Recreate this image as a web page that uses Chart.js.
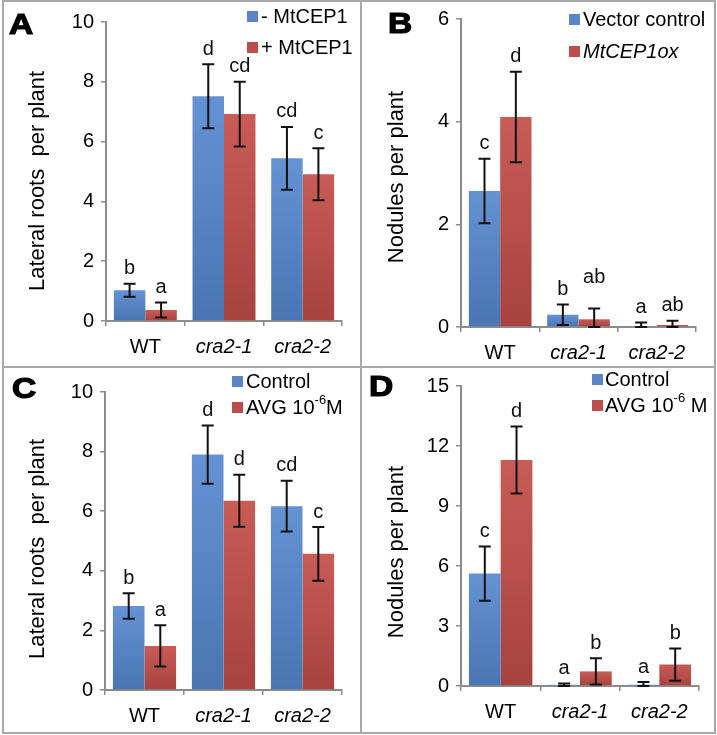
<!DOCTYPE html>
<html>
<head>
<meta charset="utf-8">
<script src="https://cdn.jsdelivr.net/npm/chart.js@4.4.0/dist/chart.umd.min.js"></script>
<style>
  body { margin: 0; background: #fff; }
  #fig { position: relative; width: 717px; height: 735px; }
  .p { position: absolute; }
  .ln { position: absolute; background: #a8a8a8; z-index: 2; }
</style>
</head>
<body>
<div id="fig">
  <div class="p" style="left:0;top:0;width:360px;height:366px"><canvas id="cA"></canvas></div>
  <div class="p" style="left:361px;top:0;width:354px;height:366px"><canvas id="cB"></canvas></div>
  <div class="p" style="left:0;top:367px;width:360px;height:366px"><canvas id="cC"></canvas></div>
  <div class="p" style="left:361px;top:367px;width:354px;height:366px"><canvas id="cD"></canvas></div>
  <div class="ln" style="left:2px;top:0;width:713px;height:2px"></div>
  <div class="ln" style="left:2px;top:0;width:2px;height:734px"></div>
  <div class="ln" style="left:714px;top:0;width:2px;height:734px"></div>
  <div class="ln" style="left:2px;top:732px;width:714px;height:2px"></div>
  <div class="ln" style="left:360px;top:0;width:2px;height:734px"></div>
  <div class="ln" style="left:2px;top:366px;width:714px;height:2px"></div>
</div>
<script>
const categories = ['WT', 'cra2-1', 'cra2-2'];

// A: lateral roots, -/+ MtCEP1
const lrMinusCep = [1.03, 7.52, 5.44];
const lrMinusCepErr = [0.22, 1.07, 1.05];
const lrMinusCepLetters = ['b', 'd', 'cd'];
const lrPlusCep = [0.37, 6.92, 4.91];
const lrPlusCepErr = [0.25, 1.08, 0.87];
const lrPlusCepLetters = ['a', 'cd', 'c'];

// B: nodules, vector vs MtCEP1ox
const nodVector = [2.65, 0.24, 0.02];
const nodVectorErr = [0.63, 0.2, 0.07];
const nodVectorLetters = ['c', 'b', 'a'];
const nodCepOx = [4.09, 0.15, 0.04];
const nodCepOxErr = [0.88, 0.21, 0.08];
const nodCepOxLetters = ['d', 'ab', 'ab'];

// C: lateral roots, control vs AVG
const lrControl = [2.82, 7.9, 6.17];
const lrControlErr = [0.43, 0.98, 0.85];
const lrControlLetters = ['b', 'd', 'cd'];
const lrAvg = [1.48, 6.35, 4.57];
const lrAvgErr = [0.69, 0.87, 0.9];
const lrAvgLetters = ['a', 'd', 'c'];

// D: nodules, control vs AVG
const nodControl = [5.62, 0.06, 0.06];
const nodControlErr = [1.36, 0.06, 0.14];
const nodControlLetters = ['c', 'a', 'a'];
const nodAvg = [11.3, 0.73, 1.07];
const nodAvgErr = [1.68, 0.66, 0.81];
const nodAvgLetters = ['d', 'b', 'b'];

const FONT = "'Liberation Sans', Arial, sans-serif";
const AXIS = '#8c8c8c';
const BLUE = ['#6592d3', '#4a75b2'];
const RED = ['#c85c57', '#a7423e'];

function barFill(cols) {
  return (c) => {
    const chart = c.chart;
    const y = chart.scales.y;
    if (!chart.chartArea || !y || c.parsed == null) return cols[1];
    const top = y.getPixelForValue(c.parsed.y);
    const bot = y.getPixelForValue(0);
    if (!isFinite(top) || bot - top < 1) return cols[1];
    const g = chart.ctx.createLinearGradient(0, top, 0, bot);
    g.addColorStop(0, cols[0]);
    g.addColorStop(1, cols[1]);
    return g;
  };
}

const deco = {
  id: 'deco',
  afterDatasetsDraw(chart) {
    const o = chart.options.plugins.deco;
    const ctx = chart.ctx;
    const y = chart.scales.y;
    ctx.save();
    // error bars + letters
    chart.data.datasets.forEach((ds, i) => {
      const meta = chart.getDatasetMeta(i);
      meta.data.forEach((el, j) => {
        const v = ds.data[j], e = ds.errors[j];
        const yt = y.getPixelForValue(v + e);
        const yb = y.getPixelForValue(Math.max(v - e, 0));
        ctx.strokeStyle = '#111';
        ctx.lineWidth = 2;
        ctx.beginPath();
        ctx.moveTo(el.x, yt); ctx.lineTo(el.x, yb);
        ctx.moveTo(el.x - 6, yt); ctx.lineTo(el.x + 6, yt);
        ctx.moveTo(el.x - 6, yb); ctx.lineTo(el.x + 6, yb);
        ctx.stroke();
        const lift = (o.lift && o.lift[i + ':' + j]) || 0;
        ctx.fillStyle = '#111';
        ctx.font = '20px ' + FONT;
        ctx.textAlign = 'center';
        ctx.textBaseline = 'middle';
        ctx.fillText(ds.letters[j], el.x, yt - 15 - lift);
      });
    });
    // y title
    ctx.save();
    ctx.translate(o.titleX, o.titleY);
    ctx.rotate(-Math.PI / 2);
    ctx.fillStyle = '#000';
    ctx.font = '22px ' + FONT;
    ctx.textAlign = 'center';
    ctx.textBaseline = 'middle';
    ctx.fillText(o.title, 0, 0);
    ctx.restore();
    // panel letter
    ctx.save();
    ctx.translate(o.tag[1], o.tag[2]);
    ctx.scale(1.12, 1);
    ctx.fillStyle = '#000';
    ctx.strokeStyle = '#000';
    ctx.lineWidth = 1.2;
    ctx.font = 'bold 30px ' + FONT;
    ctx.textAlign = 'left';
    ctx.textBaseline = 'alphabetic';
    ctx.fillText(o.tag[0], 0, 0);
    ctx.strokeText(o.tag[0], 0, 0);
    ctx.restore();
    // legend
    const lg = o.legend;
    chart.data.datasets.forEach((ds, i) => {
      const ry = lg.rows[i];
      ctx.fillStyle = ds.legendColor;
      ctx.fillRect(lg.sqX, ry - 5, 11, 11);
      ctx.fillStyle = '#000';
      ctx.textAlign = 'left';
      ctx.textBaseline = 'middle';
      let x = lg.textX;
      ds.legendParts.forEach(p => {
        ctx.font = (p.italic ? 'italic ' : '') + (p.sup ? '13px ' : '20px ') + FONT;
        ctx.fillText(p.t, x, ry + 1 - (p.sup ? 8 : 0));
        x += ctx.measureText(p.t).width;
      });
    });
    ctx.restore();
  }
};

function makePanel(id, cfg) {
  const datasets = cfg.series.map((s, i) => ({
    label: s.name,
    data: s.values,
    errors: s.errors,
    letters: s.letters,
    legendParts: s.legend,
    legendColor: i === 0 ? '#5a86c8' : '#bb4e4a',
    backgroundColor: barFill(i === 0 ? BLUE : RED),
    borderWidth: 0,
    categoryPercentage: 0.8,
    barPercentage: 1.0
  }));
  return new Chart(document.getElementById(id), {
    type: 'bar',
    data: { labels: categories, datasets },
    plugins: [deco],
    options: {
      responsive: true,
      maintainAspectRatio: false,
      animation: false,
      layout: { padding: { top: cfg.padTop, right: cfg.padRight, left: 0, bottom: 0 } },
      plugins: {
        legend: { display: false },
        tooltip: { enabled: false },
        deco: cfg.deco
      },
      scales: {
        x: {
          afterFit: s => { s.height = cfg.xH; },
          grid: { display: true, offset: true, drawOnChartArea: false, drawTicks: true, tickLength: 5, color: AXIS, lineWidth: 1.5 },
          border: { display: true, color: AXIS, width: 2 },
          ticks: {
            color: '#000',
            padding: 9,
            font: c => ({ family: FONT, size: 20, style: c.index > 0 ? 'italic' : 'normal' })
          }
        },
        y: {
          min: 0,
          max: cfg.yMax,
          afterFit: s => { s.width = cfg.yW; },
          grid: { display: true, drawOnChartArea: false, drawTicks: true, tickLength: 5, color: AXIS, lineWidth: 1.5 },
          border: { display: true, color: AXIS, width: 2 },
          ticks: { stepSize: cfg.yStep, color: '#000', padding: 7, font: { family: FONT, size: 20 } }
        }
      }
    }
  });
}

makePanel('cA', {
  yMax: 10, yStep: 2, yW: 106, xH: 45, padTop: 22, padRight: 18,
  series: [
    { name: '- MtCEP1', values: lrMinusCep, errors: lrMinusCepErr, letters: lrMinusCepLetters, legend: [{ t: '- MtCEP1' }] },
    { name: '+ MtCEP1', values: lrPlusCep, errors: lrPlusCepErr, letters: lrPlusCepLetters, legend: [{ t: '+ MtCEP1' }] }
  ],
  deco: { title: 'Lateral roots  per plant', titleX: 38, titleY: 181, tag: ['A', 9, 34],
          legend: { sqX: 247, textX: 261, rows: [16, 47] } }
});

makePanel('cB', {
  yMax: 6, yStep: 2, yW: 100, xH: 39, padTop: 15, padRight: 19,
  series: [
    { name: 'Vector control', values: nodVector, errors: nodVectorErr, letters: nodVectorLetters, legend: [{ t: 'Vector control' }] },
    { name: 'MtCEP1ox', values: nodCepOx, errors: nodCepOxErr, letters: nodCepOxLetters, legend: [{ t: 'MtCEP1ox', italic: true }] }
  ],
  deco: { title: 'Nodules per plant', titleX: 36, titleY: 177, tag: ['B', 27, 33], lift: { '1:1': 16 },
          legend: { sqX: 208, textX: 222, rows: [19, 51] } }
});

makePanel('cC', {
  yMax: 10, yStep: 2, yW: 105, xH: 43, padTop: 25, padRight: 18,
  series: [
    { name: 'Control', values: lrControl, errors: lrControlErr, letters: lrControlLetters, legend: [{ t: 'Control' }] },
    { name: 'AVG', values: lrAvg, errors: lrAvgErr, letters: lrAvgLetters, legend: [{ t: 'AVG 10' }, { t: '-6', sup: true }, { t: 'M' }] }
  ],
  deco: { title: 'Lateral roots  per plant', titleX: 38, titleY: 182, tag: ['C', 12, 31],
          legend: { sqX: 232, textX: 246, rows: [14, 40] } }
});

makePanel('cD', {
  yMax: 15, yStep: 3, yW: 100, xH: 47, padTop: 14, padRight: 16,
  series: [
    { name: 'Control', values: nodControl, errors: nodControlErr, letters: nodControlLetters, legend: [{ t: 'Control' }] },
    { name: 'AVG', values: nodAvg, errors: nodAvgErr, letters: nodAvgLetters, legend: [{ t: 'AVG 10' }, { t: '-6', sup: true }, { t: ' M' }] }
  ],
  deco: { title: 'Nodules per plant', titleX: 36, titleY: 185, tag: ['D', 8, 29],
          legend: { sqX: 231, textX: 244, rows: [12, 38] } }
});
</script>
</body>
</html>
